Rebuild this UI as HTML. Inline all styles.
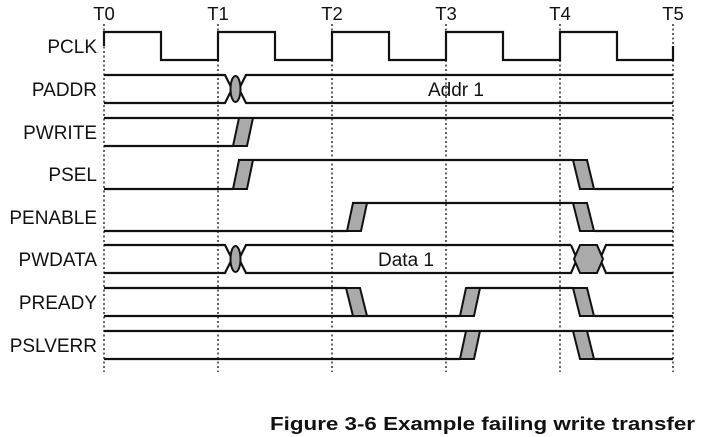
<!DOCTYPE html>
<html><head><meta charset="utf-8"><style>
html,body{margin:0;padding:0;background:#fff;}
svg{display:block;}
text{font-family:"Liberation Sans",Arial,sans-serif;fill:#111;}
</style></head><body>
<svg width="701" height="437" viewBox="0 0 701 437" xmlns="http://www.w3.org/2000/svg">
<g stroke="#111" stroke-width="1.3" stroke-dasharray="2,2.5">
<line x1="104" y1="24" x2="104" y2="372"/>
<line x1="218" y1="24" x2="218" y2="372"/>
<line x1="332" y1="24" x2="332" y2="372"/>
<line x1="446" y1="24" x2="446" y2="372"/>
<line x1="560" y1="24" x2="560" y2="372"/>
<line x1="673" y1="24" x2="673" y2="372"/>
</g>
<g font-size="18.5" text-anchor="middle">
<text x="104" y="20">T0</text><text x="218" y="20">T1</text><text x="332" y="20">T2</text>
<text x="446" y="20">T3</text><text x="560" y="20">T4</text><text x="673" y="20">T5</text>
</g>
<g font-size="19" text-anchor="end">
<text x="97" y="53">PCLK</text>
<text x="97" y="96">PADDR</text>
<text x="97" y="139">PWRITE</text>
<text x="97" y="181">PSEL</text>
<text x="97" y="224">PENABLE</text>
<text x="97" y="266">PWDATA</text>
<text x="97" y="309">PREADY</text>
<text x="97" y="352">PSLVERR</text>
</g>
<g fill="none" stroke="#111" stroke-width="2.2">
<polyline points="104,46 104,32 161,32 161,60 218,60 218,32 275,32 275,60 332,60 332,32 389,32 389,60 446,60 446,32 503,32 503,60 560,60 560,32 617,32 617,60 673,60 673,46"/>
<polyline points="104,75 225,75 232,89 225,103 104,103"/>
<polyline points="673,75 246,75 239,89 246,103 673,103"/>
<line x1="104" y1="118" x2="673" y2="118"/>
<line x1="104" y1="146" x2="233" y2="146"/>
<polyline points="104,189 233,189"/>
<polyline points="238,160 573,160"/>
<polyline points="595,189 673,189"/>
<polyline points="104,231 347,231"/>
<polyline points="352,203 573,203"/>
<polyline points="595,231 673,231"/>
<polyline points="104,245 225,245 232,259 225,273 104,273"/>
<polyline points="571,245 246,245 239,259 246,273 571,273 577,259 571,245"/>
<polyline points="673,245 606,245 600,259 606,273 673,273"/>
<polyline points="104,288 346,288"/>
<polyline points="104,316 460,316"/>
<polyline points="466,288 573,288"/>
<polyline points="595,316 673,316"/>
<polyline points="104,331 673,331"/>
<polyline points="104,359 460,359"/>
<polyline points="595,359 673,359"/>
</g>
<g fill="#aaa" stroke="#111" stroke-width="2">
<ellipse cx="235.5" cy="89" rx="5" ry="13"/>
<ellipse cx="235.5" cy="259" rx="5" ry="13"/>
<polygon points="580,245 597,245 603,259 597,273 580,273 574,259"/>
<polygon points="233,146 247,146 253,118 239,118"/>
<polygon points="233,189 247,189 253,160 239,160"/>
<polygon points="347,231 361,231 367,203 353,203"/>
<polygon points="460,316 474,316 480,288 466,288"/>
<polygon points="460,359 474,359 480,331 466,331"/>
<polygon points="573,160 587,160 594,189 580,189"/>
<polygon points="573,203 587,203 594,231 580,231"/>
<polygon points="346,288 360,288 367,316 353,316"/>
<polygon points="573,288 587,288 594,316 580,316"/>
<polygon points="573,331 587,331 594,359 580,359"/>
</g>
<text x="428" y="96" font-size="19">Addr 1</text>
<text x="378" y="266" font-size="19">Data 1</text>
<text x="270" y="430" font-size="18" font-weight="bold" textLength="425" lengthAdjust="spacingAndGlyphs">Figure 3-6 Example failing write transfer</text>
</svg>
</body></html>
